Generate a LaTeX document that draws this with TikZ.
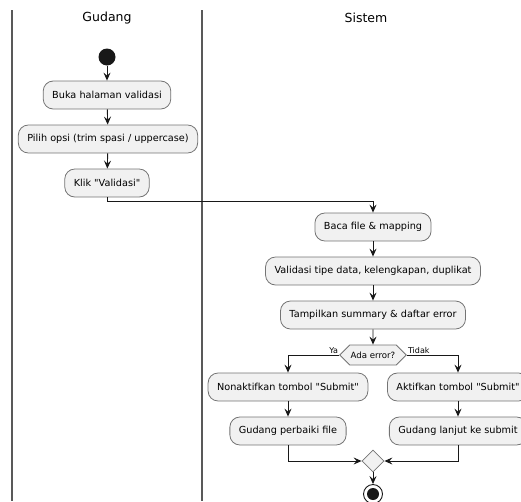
\documentclass[tikz,border=0pt]{standalone}
\usepackage{fontspec}
\setmainfont{DejaVu Sans}
\usetikzlibrary{arrows.meta,shapes.geometric,shapes.symbols}
\definecolor{boxfill}{HTML}{F1F1F1}
\definecolor{umlline}{HTML}{181818}
\tikzset{
  act/.style={draw=umlline!60, fill=boxfill, rounded corners=10pt, minimum height=28pt,
              inner xsep=9pt, line width=0.8pt, font=\fontsize{9.7}{11}\selectfont},
  flow/.style={draw=umlline, line width=0.9pt, -{Stealth[length=8pt,width=7pt,inset=3pt]}},
  lane/.style={draw=gray!70!black, line width=1.6pt},
  lbl/.style={inner sep=1pt, font=\fontsize{8}{9}\selectfont},
  title/.style={font=\fontsize{12.5}{14}\selectfont},
}
\begin{document}
\begin{tikzpicture}[x=1pt,y=-1pt]
        \useasboundingbox (0,0) rectangle (521,501);
        \clip (0,0) rectangle (521,501);
        \draw[lane] (12,10) -- (12,501)
                    (202,10) -- (202,501);
        \node[title] (gudang) at (107,18) {Gudang};
        \node[title] (sistem) at (366,18) {Sistem};

        \node[circle, fill=umlline, minimum size=17pt, inner sep=0pt] (start) at (107,57) {};
        \node[act] (buka) at (107,95) {Buka halaman validasi};
        \node[act] (opsi) at (108,139) {Pilih opsi (trim spasi / uppercase)};
        \node[act] (klik) at (107,183) {Klik \textquotedbl Validasi\textquotedbl};
        \coordinate (turn) at (107,201);

        \node[act] (baca) at (373,227) {Baca file \& mapping};
        \node[act] (validasi) at (373,271) {Validasi tipe data, kelengkapan, duplikat};
        \node[act] (tampil) at (373,315) {Tampilkan summary \& daftar error};
        \node[signal, signal to=west and east, draw=umlline!60, fill=boxfill, line width=0.8pt,
              minimum height=20pt, inner xsep=1pt, inner ysep=0pt, font=\fontsize{8.6}{10}\selectfont]
              (ada) at (373,355) {Ada error?};
        \node[lbl, anchor=south east] (ya) at (ada.west) {Ya};
        \node[lbl, anchor=south west] (tidak) at (ada.east) {Tidak};
        \node[act] (nonaktif) at (288,387) {Nonaktifkan tombol \textquotedbl Submit\textquotedbl};
        \node[act] (perbaiki) at (288,431) {Gudang perbaiki file};
        \node[act] (aktif) at (458,387) {Aktifkan tombol \textquotedbl Submit\textquotedbl};
        \node[act] (lanjut) at (458,431) {Gudang lanjut ke submit};
        \node[diamond, draw=umlline!60, fill=boxfill, line width=0.8pt, minimum size=22pt,
              inner sep=0pt] (merge) at (373,461) {};
        \node[circle, draw=umlline, fill=white, line width=0.9pt, minimum size=19pt,
              inner sep=0pt] (stop) at (373,494) {};
        \fill[umlline] (stop.center) circle (6pt);

        \draw[flow] (start) -- (buka);
        \draw[flow] (buka) -- (opsi);
        \draw[flow] (opsi) -- (klik);
        \draw[flow] (klik.south) -- (turn) -| (baca.north);
        \draw[flow] (baca) -- (validasi);
        \draw[flow] (validasi) -- (tampil);
        \draw[flow] (tampil) -- (ada);
        \draw[flow] (ada.west) -| (nonaktif.north);
        \draw[flow] (ada.east) -| (aktif.north);
        \draw[flow] (nonaktif) -- (perbaiki);
        \draw[flow] (aktif) -- (lanjut);
        \draw[flow] (perbaiki.south) |- (merge.west);
        \draw[flow] (lanjut.south) |- (merge.east);
        \draw[flow] (merge) -- (stop);
\end{tikzpicture}
\end{document}
